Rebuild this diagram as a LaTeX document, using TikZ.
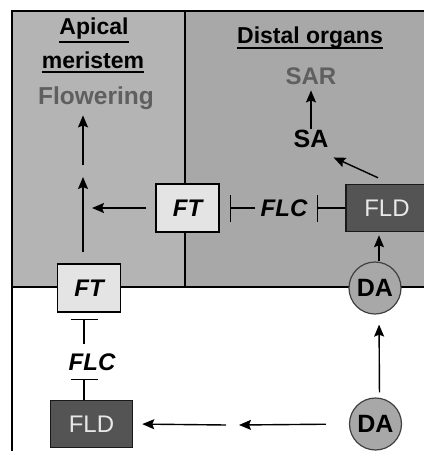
\documentclass[tikz,border=0pt]{standalone}
\usepackage{fontspec}
\setmainfont{Liberation Sans}
\usetikzlibrary{arrows.meta,calc}
\definecolor{panelL}{RGB}{180,180,180}
\definecolor{panelR}{RGB}{168,168,168}
\definecolor{boxlight}{RGB}{228,228,228}
\definecolor{boxdark}{RGB}{84,84,84}
\definecolor{txtgray}{RGB}{95,95,95}
\definecolor{txtlight}{RGB}{232,232,232}
\definecolor{dafill}{RGB}{168,168,168}
\newcommand\hdrul[2]{\setbox0=\hbox{#2}\rlap{\rule[-#1]{\wd0}{1.6pt}}\box0}
\begin{document}
\begin{tikzpicture}[x=1pt,y=-1pt,
  hdr/.style={font=\fontsize{23}{26}\selectfont\bfseries, inner sep=0pt, anchor=base},
  ftbox/.style={draw=black, line width=1.5pt, fill=boxlight, minimum width=63pt, minimum height=48pt, inner sep=0pt, font=\fontsize{24}{26}\selectfont\bfseries\itshape},
  fldbox/.style={draw=black!90, line width=1.5pt, fill=boxdark, text=txtlight, minimum width=82pt, minimum height=47pt, inner sep=0pt, font=\fontsize{24}{26}\selectfont},
  dac/.style={circle, draw=black!75, line width=1.2pt, fill=dafill, minimum size=52pt, inner sep=0pt, font=\fontsize{25}{26}\selectfont\bfseries},
  lbl/.style={inner sep=0pt, font=\fontsize{24}{26}\selectfont\bfseries\itshape},
  arr/.style={line width=1.4pt, -{Stealth[length=12pt,width=10pt,inset=2pt]}},
  inh/.style={line width=1.4pt, -{Bar[width=27pt]}}
]
\useasboundingbox (0,0) rectangle (424,451);
\clip (0,0) rectangle (424,451);
% panels
\fill[panelL] (12,11) rectangle (185,287);
\fill[panelR] (185,11) rectangle (430,287);
\draw[line width=1.8pt] (12,452) -- (12,11) -- (430,11);
\draw[line width=1.6pt] (185,11) -- (185,287);
\draw[line width=1.6pt] (12,287) -- (430,287);
% texts
\node[hdr] (apical) at (94,34) {\hdrul{9pt}{Apical}};
\node[hdr] (meri) at (93,68) {\hdrul{5pt}{meristem}};
\node[hdr, text=txtgray, font=\fontsize{24.5}{26}\selectfont\bfseries] (flow) at (96,104) {Flowering};
\node[hdr] (distal) at (310,43) {\hdrul{5.5pt}{Distal organs}};
\node[hdr, text=txtgray, font=\fontsize{24}{26}\selectfont\bfseries] (sar) at (311,84) {SAR};
\node[hdr, font=\fontsize{25}{26}\selectfont\bfseries] (sa) at (311,147) {SA};
% boxes
\node[ftbox] (ftm) at (187.5,208) {FT};
\node[ftbox] (ftl) at (89,288) {FT};
\node[lbl] (flcr) at (284,208) {FLC};
\node[lbl] (flcl) at (92,362) {FLC};
\node[fldbox] (fldr) at (387,208) {FLD};
\node[fldbox] (fldl) at (91.5,424) {FLD};
\node[dac] (da1) at (375,288) {DA};
\node[dac] (da2) at (375.5,424) {DA};
% free ends
\coordinate (c1) at (92,208);
\coordinate (c2) at (83,177);
\coordinate (c3) at (83,165);
\coordinate (c4) at (239,425);
\coordinate (c5) at (226,425);
\coordinate (lx) at (84,0);
% connectors
\draw[arr, shorten <=9pt] (ftm.west) -- (c1);
\draw[arr, shorten <=11pt] (c2 |- ftl.north) -- (c2);
\draw[arr, shorten >=6pt] (c3) -- (c3 |- flow.south);
\draw[inh, shorten <=5pt, shorten >=10pt] (flcr.west) -- (ftm.east);
\draw[inh, shorten >=9.5pt] (fldr.west) -- (flcr.east);
\draw[arr] ($(fldr.north)+(-9,-6)$) -- ($(sa.south east)+(5,10)$);
\draw[arr, shorten >=6pt] (sa.north) -- (sar.south);
\draw[arr, shorten >=3pt] ([xshift=4pt]da1.north) -- ([xshift=4pt]da1.north |- fldr.south);
\draw[arr, shorten <=5pt, shorten >=10pt] ([xshift=4pt]da2.north) -- ([xshift=4pt]da1.south);
\draw[arr, shorten <=23pt] (da2.west) -- (c4);
\draw[arr, shorten >=9pt] (c5) -- (fldl.east);
\draw[inh, shorten <=9pt, shorten >=6pt] (lx |- flcl.north) -- (lx |- ftl.south);
\draw[inh, shorten >=8pt] (lx |- fldl.north) -- (lx |- flcl.south);
\end{tikzpicture}
\end{document}
